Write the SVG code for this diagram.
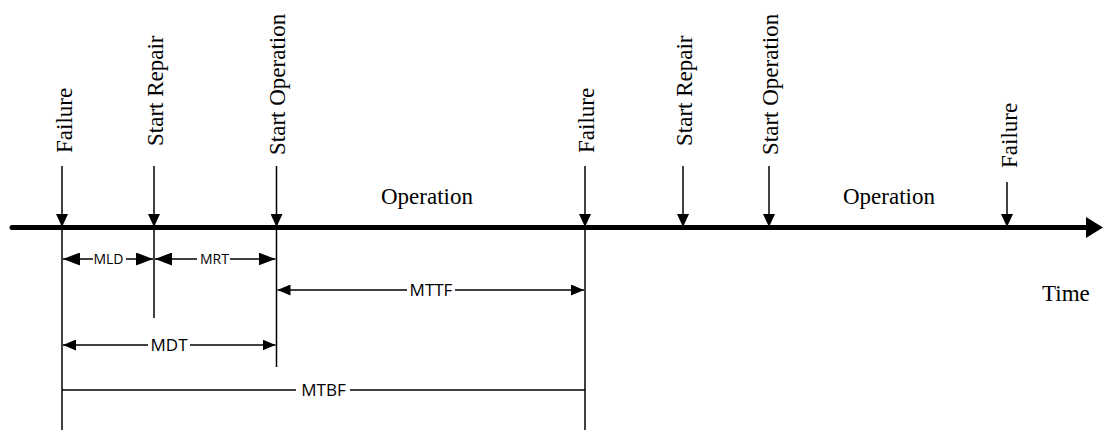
<svg xmlns="http://www.w3.org/2000/svg" width="1103" height="432" viewBox="0 0 1103 432">
<defs>
<style>
.serif{font-family:"Liberation Serif","Times New Roman",serif;font-size:23px;fill:#000}
.dim{font-family:"Open Sans","Noto Sans",sans-serif;fill:#000;text-anchor:middle}
.big{font-size:17px}
.small{font-size:14px}
.ev{stroke:#000;stroke-width:1.5;fill:none}
.dl{stroke:#000;stroke-width:1.3;fill:none}
.bg{fill:#fff}
</style>
<marker id="ah" markerUnits="userSpaceOnUse" markerWidth="13" markerHeight="12" refX="13" refY="6" orient="auto" viewBox="0 0 13 12">
<path d="M0,0 L13,6 L0,12 z" fill="#000"/>
</marker>
<marker id="dh" markerUnits="userSpaceOnUse" markerWidth="13" markerHeight="11" refX="13" refY="5.5" orient="auto-start-reverse" viewBox="0 0 13 11">
<path d="M0,0 L13,5.5 L0,11 z" fill="#000"/>
</marker>
<marker id="dhl" markerUnits="userSpaceOnUse" markerWidth="17" markerHeight="13" refX="17" refY="6.5" orient="auto-start-reverse" viewBox="0 0 17 13">
<path d="M0,0 L17,6.5 L0,13 z" fill="#000"/>
</marker>
</defs>

<g id="timeline">
<line x1="12" y1="227.5" x2="1090" y2="227.5" stroke="#000" stroke-width="5" stroke-linecap="round"/>
<polygon points="1086,217 1103,227.5 1086,238" fill="#000"/>
<text class="serif" x="1042" y="301">Time</text>
</g>

<g id="connectors">
<line class="ev" x1="62" y1="166" x2="62" y2="227" marker-end="url(#ah)"/>
<line class="ev" x1="154" y1="166" x2="154" y2="227" marker-end="url(#ah)"/>
<line class="ev" x1="276.5" y1="166" x2="276.5" y2="227" marker-end="url(#ah)"/>
<line class="ev" x1="585" y1="166" x2="585" y2="227" marker-end="url(#ah)"/>
<line class="ev" x1="683" y1="166" x2="683" y2="227" marker-end="url(#ah)"/>
<line class="ev" x1="769" y1="166" x2="769" y2="227" marker-end="url(#ah)"/>
<line class="ev" x1="1007" y1="182" x2="1007" y2="227" marker-end="url(#ah)"/>
<line class="ev" x1="62" y1="228" x2="62" y2="430"/>
<line class="ev" x1="154" y1="228" x2="154" y2="318"/>
<line class="ev" x1="276.5" y1="228" x2="276.5" y2="367"/>
<line class="ev" x1="585" y1="228" x2="585" y2="430"/>
<line class="dl" x1="63" y1="259" x2="153" y2="259" marker-start="url(#dhl)" marker-end="url(#dhl)"/>
<line class="dl" x1="155" y1="259" x2="275.5" y2="259" marker-start="url(#dhl)" marker-end="url(#dhl)"/>
<line class="dl" x1="277.5" y1="290" x2="584" y2="290" marker-start="url(#dh)" marker-end="url(#dh)"/>
<line class="dl" x1="63" y1="345" x2="275.5" y2="345" marker-start="url(#dh)" marker-end="url(#dh)"/>
<line class="dl" x1="62" y1="390" x2="585" y2="390"/>
</g>

<g id="labels-dim">
<rect class="bg" x="93" y="251" width="33" height="16"/>
<text class="dim small" x="108.5" y="264">MLD</text>
<rect class="bg" x="197" y="251" width="33" height="16"/>
<text class="dim small" x="214.5" y="264">MRT</text>
<rect class="bg" x="407" y="281" width="48" height="18"/>
<text class="dim big" x="431" y="296">MTTF</text>
<rect class="bg" x="148" y="336" width="42" height="18"/>
<text class="dim big" x="169" y="351">MDT</text>
<rect class="bg" x="296" y="381" width="54" height="18"/>
<text class="dim big" x="323.5" y="396">MTBF</text>
</g>

<g id="ev-failure-1"><text class="serif" transform="translate(72,153) rotate(-90)">Failure</text></g>
<g id="ev-start-repair-1"><text class="serif" transform="translate(163,146) rotate(-90)">Start Repair</text></g>
<g id="ev-start-operation-1"><text class="serif" transform="translate(285,155) rotate(-90)">Start Operation</text></g>
<g id="ev-failure-2"><text class="serif" transform="translate(594,153) rotate(-90)">Failure</text></g>
<g id="ev-start-repair-2"><text class="serif" transform="translate(692,146) rotate(-90)">Start Repair</text></g>
<g id="ev-start-operation-2"><text class="serif" transform="translate(778,155) rotate(-90)">Start Operation</text></g>
<g id="ev-failure-3"><text class="serif" transform="translate(1017,168) rotate(-90)">Failure</text></g>

<g id="operation-1"><text class="serif" x="381" y="204">Operation</text></g>
<g id="operation-2"><text class="serif" x="843" y="204">Operation</text></g>
</svg>
